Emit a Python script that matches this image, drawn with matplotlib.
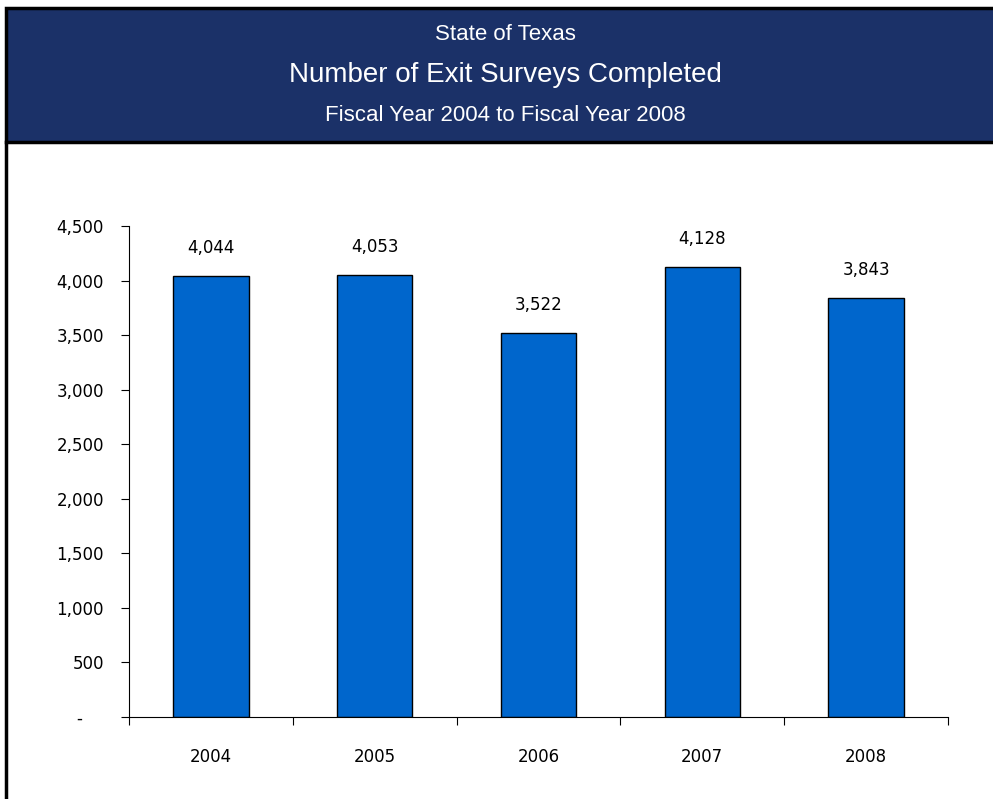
import matplotlib.pyplot as plt
from matplotlib.patches import Rectangle
from matplotlib.lines import Line2D

years = ['2004', '2005', '2006', '2007', '2008']
surveys = [4044, 4053, 3522, 4128, 3843]
y_ticks = [0, 500, 1000, 1500, 2000, 2500, 3000, 3500, 4000, 4500]

plt.rcParams['font.family'] = ['DejaVu Sans']
head_font = ['Liberation Sans', 'DejaVu Sans']

fig = plt.figure(figsize=(9.93, 7.99), dpi=100)

# navy header banner with black border
fig.patches.append(Rectangle((6 / 993, 1 - 142 / 799), 1.0, 134 / 799, transform=fig.transFigure,
                             facecolor='#1b3168', edgecolor='black', linewidth=2.5))
fig.lines.append(Line2D([6 / 993, 6 / 993], [0, 1 - 142 / 799], transform=fig.transFigure,
                        color='black', linewidth=2.5))

fig.text(0.509, 0.957, 'State of Texas', color='white', fontsize=16, ha='center', va='center', family=head_font)
fig.text(0.509, 0.906, 'Number of Exit Surveys Completed', color='white', fontsize=20, ha='center', va='center',
         family=head_font)
fig.text(0.509, 0.856, 'Fiscal Year 2004 to Fiscal Year 2008', color='white', fontsize=16, ha='center',
         va='center', family=head_font)

ax = fig.add_axes([129 / 993, 1 - 717 / 799, 819 / 993, 491 / 799])
x = range(len(years))
ax.bar(x, surveys, width=0.46, color='#0066cc', edgecolor='black', linewidth=1)
for xi, v in zip(x, surveys):
    ax.text(xi, v + 170, f'{v:,}', ha='center', va='bottom', fontsize=12)

ax.set_xlim(-0.5, len(years) - 0.5)
ax.set_ylim(0, 4500)
ax.set_yticks(y_ticks)
# accounting-style zero shows as a dash set in from the right
ax.set_yticklabels(['-    ' if t == 0 else f'{t:,}' for t in y_ticks], fontsize=12)
ax.set_xticks([i - 0.5 for i in range(len(years) + 1)])
ax.set_xticklabels([])
ax.set_xticks(list(x), minor=True)
ax.set_xticklabels(years, minor=True, fontsize=12)
ax.tick_params(axis='x', which='minor', length=0, pad=22)
ax.tick_params(axis='x', which='major', direction='out', length=6)
ax.tick_params(axis='y', direction='out', length=6, pad=12)
ax.spines['top'].set_visible(False)
ax.spines['right'].set_visible(False)

fig.savefig('out.png', dpi=100)
